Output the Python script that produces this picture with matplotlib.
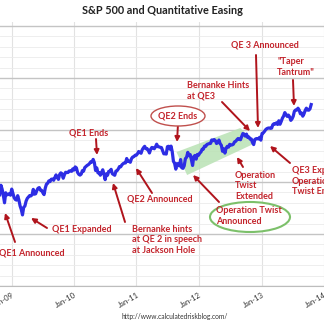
import numpy as np
import pandas as pd
import matplotlib
matplotlib.use('Agg')
import matplotlib.pyplot as plt
from matplotlib.patches import Ellipse, Polygon

# --- data: S&P 500 weekly closes (Fridays), Oct 2008 - Oct 2013 ---
first_week = '2008-10-24'
closes = [
    # 2008
    876.8, 968.8, 931.0, 873.3, 800.0, 896.2, 876.1, 879.7, 887.9, 872.8,
    # 2009
    931.8, 890.4, 850.1, 832.0, 825.9, 868.6, 826.8, 770.1, 735.1, 683.4,
    756.6, 768.5, 815.9, 842.5, 856.6, 869.6, 866.2, 877.5, 929.2, 882.9,
    887.0, 919.1, 940.1, 946.2, 921.2, 918.9, 896.4, 879.1, 940.4, 979.3,
    987.5, 1010.5, 1004.1, 1026.1, 1028.9, 1016.4, 1042.7, 1068.3, 1044.4, 1025.2,
    1071.5, 1087.7, 1079.6, 1036.2, 1069.3, 1093.5, 1091.4, 1091.5, 1106.0, 1106.4,
    1102.5, 1126.5, 1115.1,
    # 2010
    1145.0, 1136.0, 1091.8, 1073.9, 1066.2, 1075.5, 1109.2, 1104.5, 1138.7, 1150.0,
    1159.9, 1166.6, 1178.1, 1194.4, 1192.1, 1217.3, 1186.7, 1110.9, 1135.7, 1087.7,
    1089.4, 1064.9, 1091.6, 1117.5, 1076.8, 1022.6, 1078.0, 1064.9, 1102.7, 1101.6,
    1121.6, 1079.3, 1071.7, 1064.6, 1104.5, 1109.6, 1125.6, 1148.7, 1146.2, 1165.2,
    1176.2, 1183.1, 1183.3, 1225.9, 1199.2, 1199.7, 1189.4, 1224.7, 1240.4, 1243.9,
    1256.8, 1257.6,
    # 2011
    1271.5, 1293.2, 1283.4, 1276.3, 1310.9, 1329.2, 1343.0, 1319.9, 1321.2, 1304.3,
    1279.2, 1313.8, 1332.4, 1328.2, 1319.7, 1337.4, 1363.6, 1340.2, 1337.8, 1333.3,
    1331.1, 1300.2, 1271.0, 1271.5, 1268.5, 1339.7, 1343.8, 1316.1, 1345.0, 1292.3,
    1199.4, 1178.8, 1123.5, 1176.8, 1174.0, 1154.2, 1216.0, 1136.4, 1131.4, 1155.5,
    1224.6, 1238.3, 1285.1, 1253.2, 1263.9, 1215.7, 1158.7, 1244.3, 1255.2, 1219.7,
    1265.3, 1257.6,
    # 2012
    1277.8, 1289.1, 1315.4, 1316.3, 1344.9, 1342.6, 1361.2, 1365.7, 1369.6, 1370.9,
    1404.2, 1397.1, 1408.5, 1398.1, 1370.3, 1378.5, 1403.4, 1369.1, 1353.4, 1295.2,
    1317.8, 1278.0, 1325.7, 1342.8, 1335.0, 1362.2, 1354.7, 1356.8, 1362.7, 1386.0,
    1391.0, 1405.9, 1418.2, 1411.1, 1406.6, 1437.9, 1465.8, 1460.2, 1440.7, 1460.9,
    1428.6, 1433.2, 1411.9, 1414.2, 1379.9, 1359.9, 1409.2, 1416.2, 1418.1, 1413.6,
    1430.2, 1402.4,
    # 2013
    1466.5, 1472.1, 1486.0, 1503.0, 1513.2, 1517.9, 1519.8, 1515.6, 1518.2, 1551.2,
    1560.7, 1556.9, 1569.2, 1553.3, 1588.9, 1555.3, 1582.2, 1614.4, 1633.7, 1667.5,
    1649.6, 1630.7, 1643.4, 1626.7, 1592.4, 1606.3, 1631.9, 1680.2, 1692.1, 1691.7,
    1709.7, 1691.4, 1655.8, 1663.5, 1633.0, 1655.2, 1688.0, 1709.9, 1691.8, 1690.5,
    1703.2, 1744.5,
]
dates = pd.date_range(first_week, periods=len(closes), freq='W-FRI')

tick_years = [2009, 2010, 2011, 2012, 2013, 2014]
tick_labels = ['Jan-09', 'Jan-10', 'Jan-11', 'Jan-12', 'Jan-13', 'Jan-14']

# operation twist band (corners: date, level)
band_dates = ['2011-08-23', '2012-08-30', '2012-11-27', '2011-10-24']
band_levels = [1288, 1519, 1375, 1067]

title = 'S&P 500 and Quantitative Easing'
source = 'http://www.calculatedriskblog.com/'

# --- figure ---
W = H = 324
RED = '#c3242c'
ARROW = '#b0141c'
FONT = 'Lato'

def fp(x, y):
    return (x / W, 1 - y / H)

fig = plt.figure(figsize=(W / 100, H / 100), dpi=100)
fig.patch.set_facecolor('white')
ax = fig.add_axes([0, (H - 286) / H, 1, (286 - 22) / H])

jan09 = pd.Timestamp('2009-01-01')
ax.set_xlim(jan09 - pd.Timedelta(days=12 / 65 * 365.25),
            jan09 + pd.Timedelta(days=312 / 65 * 365.25))
ax.set_ylim(0, 264 / 0.104)

ax.set_yticks(np.arange(0, 2501, 500))
ax.set_yticks(np.arange(0, 2501, 100), minor=True)
ax.grid(which='major', axis='y', color='#c4c4c4', lw=1.0)
ax.grid(which='minor', axis='y', color='#ebebeb', lw=0.6)
ax.tick_params(axis='y', which='both', left=False, labelleft=False)

ax.set_xticks([pd.Timestamp(f'{y}-01-01') for y in tick_years])
ax.set_xticklabels(tick_labels, rotation=30, ha='right', rotation_mode='anchor',
                   fontsize=5.5, color='#333333', family=FONT)
ax.tick_params(axis='x', length=0, pad=4)
ax.grid(which='major', axis='x', color='#e2e2e2', lw=0.8)

for s in ['top', 'left', 'right']:
    ax.spines[s].set_visible(False)
ax.spines['bottom'].set_color('#bdbdbd')
ax.set_axisbelow(True)

band = Polygon(list(zip(pd.to_datetime(band_dates).map(matplotlib.dates.date2num), band_levels)),
               closed=True, facecolor='#b9e2b4', edgecolor='none', alpha=0.85, zorder=2)
ax.add_patch(band)

ax.plot(dates, closes, color='#2d2de4', lw=2.3, zorder=3, solid_joinstyle='round')

fig.text(0.5, 1 - 10 / H, title, ha='center', va='center', fontsize=7.8,
         fontweight='bold', color='#222222', family=FONT)
fig.text(122 / W, 1 - 317 / H, source, ha='left', va='center', fontsize=4.8,
         color='#333333', family=FONT)

# annotations: (text, x, y, ha, tail, tip)
notes = [
    ('QE1 Announced', -1, 253, 'left', (15, 242), (5, 213)),
    ('QE1 Expanded', 52, 229, 'left', (47, 228), (31, 218)),
    ('QE1 Ends', 89, 133, 'center', (96, 139), (97, 155)),
    ('QE2 Announced', 127, 199, 'left', (152, 193), (136, 168)),
    ('Bernanke hints\nat QE 2 in speech\nat Jackson Hole', 132, 240, 'left', (125, 222), (113, 183)),
    ('QE2 Ends', 178, 116, 'center', (178, 124), (177, 142)),
    ('Operation Twist\nAnnounced', 216, 216, 'left', (219, 202), (193, 175)),
    ('Operation\nTwist\nExtended', 235, 186, 'left', (243, 167), (237, 157)),
    ('Bernanke Hints\nat QE3', 187, 91, 'left', (222, 102), (250, 131)),
    ('QE 3 Announced', 265, 45, 'center', (256, 55), (258, 128)),
    ('"Taper\nTantrum"', 277, 67, 'left', (293, 80), (294, 106)),
    ('QE3 Expanded\nOperation\nTwist Ends', 292, 181, 'left', (290, 163), (270, 146)),
]

fig.add_artist(Ellipse(fp(178, 116), 54 / W, 20 / H, transform=fig.transFigure,
                       facecolor='white', edgecolor='#c0504d', lw=1.0, zorder=4))
fig.add_artist(Ellipse(fp(250, 217), 80 / W, 30 / H, transform=fig.transFigure,
                       facecolor='white', edgecolor='#7cc06a', lw=1.5, zorder=4))

for txt, tx, ty, ha, tail, tip in notes:
    fig.text(tx / W, 1 - ty / H, txt, ha=ha, va='center', fontsize=6.5,
             fontweight='bold', color=RED, family=FONT, linespacing=1.25, zorder=5)
    ax.annotate('', xy=fp(*tip), xycoords='figure fraction', xytext=fp(*tail),
                textcoords='figure fraction', annotation_clip=False, zorder=5,
                arrowprops=dict(arrowstyle='-|>', color=ARROW, lw=1.4, mutation_scale=7,
                                shrinkA=0, shrinkB=0))

fig.savefig('out.png', dpi=100)
